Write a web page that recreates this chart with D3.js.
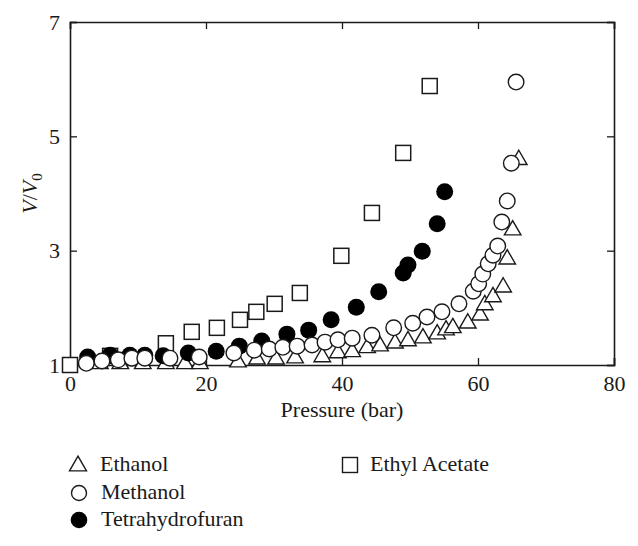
<!DOCTYPE html>
<html>
<head>
<meta charset="utf-8">
<script src="https://cdn.jsdelivr.net/npm/d3@7"></script>
<style>
  body { margin: 0; background: #fff; }
</style>
</head>
<body>
<div id="chart"></div>
<script>
// data (pressure in bar, V/V0)
const ethylAcetateP = [0, 5.9, 14.1, 17.9, 21.6, 25.0, 27.4, 30.1, 33.8, 39.9, 44.4, 49.0, 52.9];
const ethylAcetateV = [1.00, 1.16, 1.38, 1.58, 1.65, 1.79, 1.93, 2.07, 2.26, 2.91, 3.66, 4.71, 5.88];

const ethanolP = [4.4, 7.4, 10.7, 14.1, 16.9, 19.1, 24.7, 27.5, 30.3, 33.1, 37.1, 39.4, 41.5, 43.7, 45.6, 47.8, 49.7, 51.9, 54.0, 55.3, 56.3, 58.5, 60.3, 61.0, 62.2, 63.7, 64.3, 65.1, 66.0];
const ethanolV = [1.02, 1.02, 1.02, 1.02, 1.02, 1.02, 1.05, 1.10, 1.10, 1.12, 1.14, 1.21, 1.23, 1.30, 1.33, 1.38, 1.42, 1.47, 1.54, 1.61, 1.65, 1.73, 1.87, 2.05, 2.19, 2.36, 2.85, 3.36, 4.59];

const thfP = [2.6, 5.9, 8.8, 11.0, 13.7, 17.4, 21.5, 24.9, 28.2, 31.9, 35.1, 38.4, 42.1, 45.4, 49.0, 49.7, 51.8, 54.0, 55.1];
const thfV = [1.14, 1.17, 1.17, 1.17, 1.16, 1.21, 1.24, 1.33, 1.42, 1.54, 1.61, 1.79, 2.01, 2.28, 2.61, 2.75, 2.99, 3.47, 4.03];

const methanolP = [2.4, 4.7, 7.1, 9.1, 11.0, 14.7, 19.0, 24.1, 27.1, 29.3, 31.3, 33.4, 35.6, 37.5, 39.4, 41.5, 44.4, 47.6, 50.4, 52.5, 54.7, 57.2, 59.3, 60.1, 60.7, 61.5, 62.2, 62.9, 63.5, 64.3, 64.9, 65.6];
const methanolV = [1.03, 1.07, 1.09, 1.12, 1.12, 1.12, 1.14, 1.21, 1.26, 1.28, 1.31, 1.33, 1.35, 1.40, 1.44, 1.47, 1.52, 1.65, 1.73, 1.84, 1.93, 2.07, 2.29, 2.42, 2.59, 2.77, 2.92, 3.08, 3.50, 3.87, 4.53, 5.95];

const xTicks = [0, 20, 40, 60, 80];
const yTicks = [1, 3, 5, 7];

const WIDTH = 638;
const HEIGHT = 546;
const FONT = '"Liberation Serif", "DejaVu Serif", serif';
const INK = '#1a1a1a';
const margin = { left: 70, right: 24, top: 22, bottom: 181 };

const svg = d3.select('#chart')
  .append('svg')
  .attr('width', WIDTH)
  .attr('height', HEIGHT)
  .style('font-family', FONT);

const scaleX = d3.scaleLinear().domain([0, 80]).range([margin.left, WIDTH - margin.right]);
const scaleY = d3.scaleLinear().domain([1, 7]).range([HEIGHT - margin.bottom, margin.top]);

const zip = (xs, ys) => xs.map((p, i) => ({ p: p, v: ys[i] }));

// axes (ticks point inward)
const axisBottomG = svg.append('g')
  .attr('transform', `translate(0,${scaleY(1)})`)
  .call(d3.axisBottom(scaleX).tickValues(xTicks).tickSize(-7).tickPadding(10).tickFormat(d3.format('d')));
const axisTopG = svg.append('g')
  .attr('transform', `translate(0,${scaleY(7)})`)
  .call(d3.axisTop(scaleX).tickValues(xTicks).tickSize(-7).tickFormat(''));
const axisLeftG = svg.append('g')
  .attr('transform', `translate(${scaleX(0)},0)`)
  .call(d3.axisLeft(scaleY).tickValues(yTicks).tickSize(-7).tickPadding(10).tickFormat(d3.format('d')));
const axisRightG = svg.append('g')
  .attr('transform', `translate(${scaleX(80)},0)`)
  .call(d3.axisRight(scaleY).tickValues(yTicks).tickSize(-7).tickFormat(''));

[axisBottomG, axisTopG, axisLeftG, axisRightG].forEach((g) => {
  g.attr('font-family', null).attr('font-size', null);
  g.select('.domain').attr('stroke', INK).attr('stroke-width', 1.6);
  g.selectAll('.tick line').attr('stroke', INK).attr('stroke-width', 1.3);
  g.selectAll('.tick text')
    .style('font-family', FONT)
    .style('font-size', '22px')
    .attr('fill', INK);
});

// axis titles
svg.append('text')
  .attr('x', (scaleX(0) + scaleX(80)) / 2)
  .attr('y', 417)
  .attr('text-anchor', 'middle')
  .attr('fill', INK)
  .style('font-size', '22px')
  .text('Pressure (bar)');

const yTitle = svg.append('text')
  .attr('transform', `translate(37,${(scaleY(1) + scaleY(7)) / 2}) rotate(-90)`)
  .attr('text-anchor', 'middle')
  .attr('fill', INK)
  .style('font-size', '22px');
yTitle.append('tspan').style('font-style', 'italic').text('V');
yTitle.append('tspan').text('/');
yTitle.append('tspan').style('font-style', 'italic').text('V');
yTitle.append('tspan').attr('dy', 5).style('font-size', '15px').text('0');

// marker helpers
const triPath = (s) => {
  const h = s * 0.866;
  return `M0,${-h * 2 / 3}L${s / 2},${h / 3}L${-s / 2},${h / 3}Z`;
};

const plot = svg.append('g');

// squares
plot.selectAll('.sq')
  .data(zip(ethylAcetateP, ethylAcetateV))
  .join('rect')
  .attr('x', (d) => scaleX(d.p) - 7.5)
  .attr('y', (d) => scaleY(d.v) - 7.5)
  .attr('width', 15)
  .attr('height', 15)
  .attr('fill', '#fff')
  .attr('stroke', INK)
  .attr('stroke-width', 1.5);

// triangles
plot.selectAll('.tri')
  .data(zip(ethanolP, ethanolV))
  .join('path')
  .attr('transform', (d) => `translate(${scaleX(d.p)},${scaleY(d.v)})`)
  .attr('d', triPath(16.5))
  .attr('fill', '#fff')
  .attr('stroke', INK)
  .attr('stroke-width', 1.4);

// filled circles
plot.selectAll('.thf')
  .data(zip(thfP, thfV))
  .join('circle')
  .attr('cx', (d) => scaleX(d.p))
  .attr('cy', (d) => scaleY(d.v))
  .attr('r', 8.5)
  .attr('fill', '#000');

// open circles
plot.selectAll('.meoh')
  .data(zip(methanolP, methanolV))
  .join('circle')
  .attr('cx', (d) => scaleX(d.p))
  .attr('cy', (d) => scaleY(d.v))
  .attr('r', 7.8)
  .attr('fill', '#fff')
  .attr('stroke', INK)
  .attr('stroke-width', 1.4);

// legend
const legend = svg.append('g');
const legendItems = [
  { name: 'Ethanol', type: 'tri', x: 78, y: 465 },
  { name: 'Methanol', type: 'open', x: 79, y: 493 },
  { name: 'Tetrahydrofuran', type: 'filled', x: 79, y: 520 },
  { name: 'Ethyl Acetate', type: 'sq', x: 350, y: 465 },
];
legendItems.forEach((d) => {
  const g = legend.append('g').attr('transform', `translate(${d.x},${d.y})`);
  if (d.type === 'tri') {
    g.append('path').attr('d', triPath(17)).attr('transform', 'translate(0,1)')
      .attr('fill', '#fff').attr('stroke', INK).attr('stroke-width', 1.4);
  } else if (d.type === 'open') {
    g.append('circle').attr('r', 7.5).attr('fill', '#fff').attr('stroke', INK).attr('stroke-width', 1.4);
  } else if (d.type === 'filled') {
    g.append('circle').attr('r', 8.3).attr('fill', '#000');
  } else {
    g.append('rect').attr('x', -7.5).attr('y', -7.5).attr('width', 15).attr('height', 15)
      .attr('fill', '#fff').attr('stroke', INK).attr('stroke-width', 1.4);
  }
  g.append('text')
    .attr('x', d.type === 'sq' ? 20 : 22)
    .attr('y', 6)
    .attr('fill', INK)
    .style('font-size', '22px')
    .text(d.name);
});
</script>
</body>
</html>
